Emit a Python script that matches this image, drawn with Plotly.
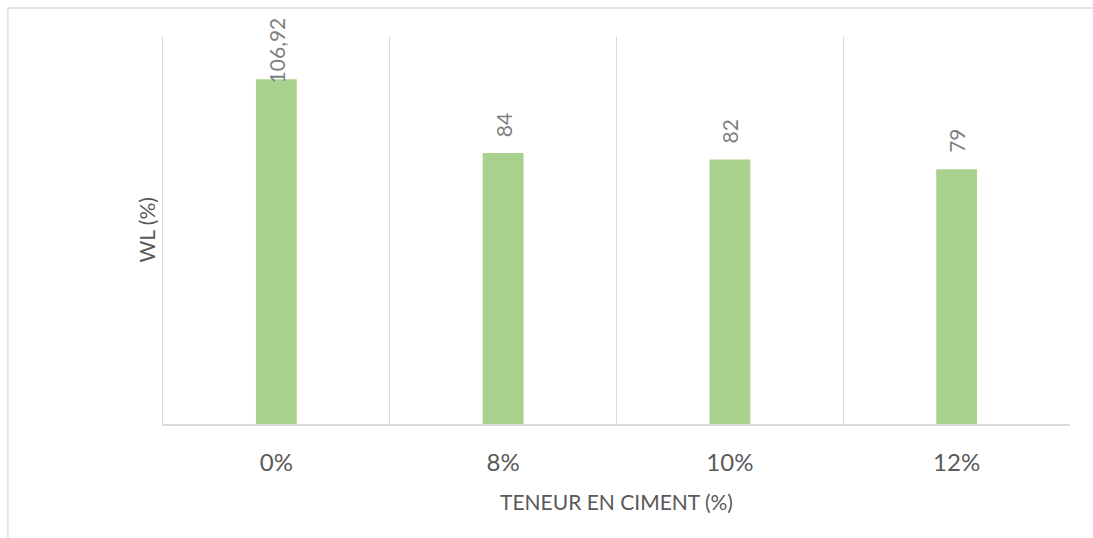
import plotly.graph_objects as go

# Liquidity limit of the treated soil by cement content
categories = ["0%", "8%", "10%", "12%"]
wl_values = [106.92, 84, 82, 79]
value_labels = ["106,92", "84", "82", "79"]

Y_MAX = 120
FONT = "Lato, 'Open Sans', sans-serif"
GRID = "#d9d9d9"
LABEL_SIZE = 21
PLOT_H = 387          # plot-area height in px (538 - 37 - 114)
PLOT_W = 907          # plot-area width in px (1093 - 163 - 23)

fig = go.Figure()
fig.add_trace(go.Bar(
    x=categories,
    y=wl_values,
    marker=dict(color="#A9D18E", line=dict(width=0)),
    width=0.18,
    hoverinfo="x+y",
))

# Rotated value labels above each bar; a label that would run past the
# top of the chart is pinned just under the chart border instead.
px_per_unit = PLOT_H / Y_MAX
for cat, val, lab in zip(categories, wl_values, value_labels):
    label_len_px = len(lab) * 0.56 * LABEL_SIZE
    top_px = val * px_per_unit + 14 + label_len_px
    if top_px > PLOT_H + 18:
        fig.add_annotation(
            x=cat, y=(PLOT_H + 22) / PLOT_H, yref="paper", text=lab,
            textangle=-90, showarrow=False, yanchor="top",
            font=dict(family=FONT, size=LABEL_SIZE, color="#7f7f7f"),
        )
    else:
        fig.add_annotation(
            x=cat, y=val, text=lab,
            textangle=-90, showarrow=False,
            yanchor="bottom", yshift=14,
            font=dict(family=FONT, size=LABEL_SIZE, color="#7f7f7f"),
        )

# Vertical axis title, set close to the axis line
fig.add_annotation(
    x=-17 / PLOT_W, xref="paper", y=0.5, yref="paper",
    text="WL (%)", textangle=-90, showarrow=False,
    xanchor="center", yanchor="middle",
    font=dict(family=FONT, size=21, color="#595959"),
)

# Outer chart border (top and left edges visible)
fig.add_shape(type="line", xref="paper", yref="paper",
              x0=-0.171, x1=1.1, y0=1.075, y1=1.075,
              line=dict(color=GRID, width=1.3))
fig.add_shape(type="line", xref="paper", yref="paper",
              x0=-0.171, x1=-0.171, y0=1.075, y1=-0.4,
              line=dict(color=GRID, width=1.3))

fig.update_layout(
    width=1093, height=538,
    margin=dict(l=163, r=23, t=37, b=114),
    paper_bgcolor="white", plot_bgcolor="white",
    showlegend=False,
    font=dict(family=FONT, color="#595959"),
    xaxis=dict(
        type="category",
        tickson="boundaries", ticks="",
        ticklabelstandoff=16,
        showgrid=True, gridcolor=GRID, gridwidth=1.3,
        showline=True, linecolor=GRID, linewidth=1.5,
        tickfont=dict(family=FONT, size=24, color="#595959"),
        title=dict(text="TENEUR EN CIMENT (%)", standoff=21,
                   font=dict(family=FONT, size=21, color="#595959")),
    ),
    yaxis=dict(
        range=[0, Y_MAX], showgrid=False, zeroline=False,
        showticklabels=False, ticks="",
        showline=True, linecolor=GRID, linewidth=1.3,
    ),
)

fig.write_html("out.html")
